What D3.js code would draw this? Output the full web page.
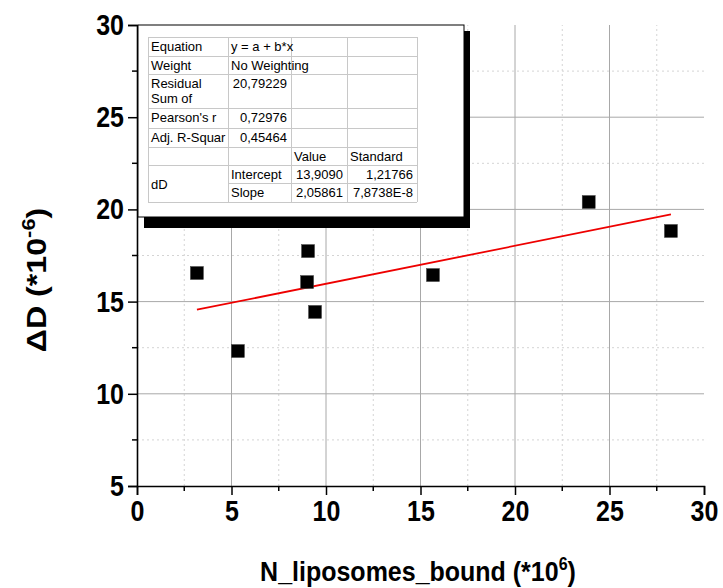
<!DOCTYPE html>
<html><head><meta charset="utf-8">
<script src="https://cdn.jsdelivr.net/npm/d3@7"></script>
<style>body{margin:0;background:#fff}svg{display:block}
.stretch{transform-box:fill-box;transform-origin:center;transform:scaleY(1.18)}</style>
</head><body>
<svg id="c" width="723" height="588"></svg>
<script>
const xValues = [3.17, 5.34, 9.05, 9.0, 9.42, 15.66, 23.9, 28.25];
const yValues = [16.55, 12.32, 17.74, 16.06, 14.44, 16.44, 20.4, 18.83];
const fitIntercept = 13.909;
const fitSlope = 0.205861;
const xTicks = [0, 5, 10, 15, 20, 25, 30];
const yTicks = [5, 10, 15, 20, 25, 30];
const tableRows = [
  ["Equation", "y = a + b*x", "", ""],
  ["Weight", "No Weighting", "", ""],
  ["Residual\nSum of", "20,79229", "", ""],
  ["Pearson's r", "0,72976", "", ""],
  ["Adj. R-Squar", "0,45464", "", ""],
  ["", "", "Value", "Standard"],
  ["dD", "Intercept", "13,9090", "1,21766"],
  ["", "Slope", "2,05861", "7,8738E-8"]
];

const svg = d3.select("#c");
const font = "'Liberation Sans', Arial, sans-serif";
const x = d3.scaleLinear().domain([0, 30]).range([137, 704]);
const y = d3.scaleLinear().domain([5, 30]).range([486, 25]);

// grid
const g = svg.append("g");
const minorX = d3.range(2.5, 30, 5), minorY = d3.range(7.5, 30, 5);
g.selectAll(".mx").data(minorX).join("line").attr("x1", d => x(d)).attr("x2", d => x(d))
  .attr("y1", y(5)).attr("y2", y(30)).attr("stroke", "#d4d4d4").attr("stroke-dasharray", "2,3");
g.selectAll(".my").data(minorY).join("line").attr("y1", d => y(d)).attr("y2", d => y(d))
  .attr("x1", x(0)).attr("x2", x(30)).attr("stroke", "#d4d4d4").attr("stroke-dasharray", "2,3");
g.selectAll(".Mx").data([5, 10, 15, 20, 25]).join("line").attr("x1", d => x(d)).attr("x2", d => x(d))
  .attr("y1", y(5)).attr("y2", y(30)).attr("stroke", "#a8a8a8");
g.selectAll(".My").data([10, 15, 20, 25]).join("line").attr("y1", d => y(d)).attr("y2", d => y(d))
  .attr("x1", x(0)).attr("x2", x(30)).attr("stroke", "#a8a8a8");

// axes
const xAxis = d3.axisBottom(x).tickValues(xTicks).tickSize(9).tickPadding(7).tickFormat(d3.format("d"));
const yAxis = d3.axisLeft(y).tickValues(yTicks).tickSize(9).tickPadding(4).tickFormat(d3.format("d"));
const xa = svg.append("g").attr("transform", `translate(0,${y(5)})`).call(xAxis);
const ya = svg.append("g").attr("transform", `translate(${x(0)},0)`).call(yAxis);
[xa, ya].forEach(a => {
  a.select(".domain").attr("stroke", "#000").attr("stroke-width", 1.6);
  a.selectAll(".tick line").attr("stroke", "#000").attr("stroke-width", 1.5);
  a.selectAll(".tick text").attr("font-family", font).attr("font-weight", "bold").attr("font-size", 25)
    .attr("fill", "#000").attr("class", "stretch");
});
// minor ticks
svg.append("g").selectAll("line").data(minorX).join("line")
  .attr("x1", d => x(d)).attr("x2", d => x(d)).attr("y1", y(5)).attr("y2", y(5) + 5)
  .attr("stroke", "#000").attr("stroke-width", 1.5);
svg.append("g").selectAll("line").data(minorY).join("line")
  .attr("y1", d => y(d)).attr("y2", d => y(d)).attr("x1", x(0)).attr("x2", x(0) - 5)
  .attr("stroke", "#000").attr("stroke-width", 1.5);

// fit line
const x0 = d3.min(xValues), x1 = d3.max(xValues);
svg.append("line").attr("x1", x(x0)).attr("y1", y(fitIntercept + fitSlope * x0))
  .attr("x2", x(x1)).attr("y2", y(fitIntercept + fitSlope * x1))
  .attr("stroke", "#ee0000").attr("stroke-width", 1.8);

// points
svg.append("g").selectAll("rect").data(xValues.map((v, i) => [v, yValues[i]])).join("rect")
  .attr("x", d => x(d[0]) - 6.5).attr("y", d => y(d[1]) - 6.5).attr("width", 13).attr("height", 13)
  .attr("fill", "#000").attr("stroke", "#444").attr("stroke-width", 0.5);

// table box with shadow
const bx = 138, by = 25, bw = 326, bh = 192;
svg.append("rect").attr("x", bx + 6).attr("y", by + 6).attr("width", bw).attr("height", bh + 5).attr("fill", "#000");
svg.append("rect").attr("x", bx).attr("y", by).attr("width", bw).attr("height", bh).attr("fill", "#fff").attr("stroke", "#000").attr("stroke-width", 1);

const colX = [148, 228, 291, 347, 417];
const rowY = [37, 56, 74, 108, 128, 147, 165, 183, 202];
const tg = svg.append("g").attr("font-family", font).attr("font-size", 13).attr("fill", "#000");
const gridC = "#c8c8c8";
rowY.forEach((ry, i) => {
  const sx = (i === 7) ? colX[1] : colX[0];
  tg.append("line").attr("x1", sx).attr("x2", colX[4]).attr("y1", ry + 0.5).attr("y2", ry + 0.5).attr("stroke", gridC);
});
colX.forEach(cx => tg.append("line").attr("x1", cx + 0.5).attr("x2", cx + 0.5).attr("y1", rowY[0]).attr("y2", rowY[8]).attr("stroke", gridC));

const rightAligned = (r, c) => (c === 1 && r >= 2 && r <= 4) || (c >= 2 && r >= 6);
tableRows.forEach((row, r) => {
  row.forEach((txt, c) => {
    if (!txt) return;
    const ra = rightAligned(r, c);
    const tx = ra ? colX[c + 1] - 4 : colX[c] + 3;
    let ty = rowY[r] + 14;
    if (r === 6 && c === 0) ty = (rowY[6] + rowY[8]) / 2 + 5;
    const lines = txt.split("\n");
    const t = tg.append("text").attr("x", tx).attr("y", ty).attr("text-anchor", ra ? "end" : "start");
    if (lines.length > 1) {
      lines.forEach((l, k) => t.append("tspan").attr("x", tx).attr("y", ty + k * 15).text(l));
    } else t.text(txt);
  });
});

// axis titles
const xt = svg.append("text").attr("x", 418).attr("y", 580).attr("text-anchor", "middle")
  .attr("font-family", font).attr("font-weight", "bold").attr("font-size", 25)
  .style("transform-box", "fill-box").style("transform-origin", "center").style("transform", "scaleY(1.1)");
xt.append("tspan").text("N_liposomes_bound (*10");
xt.append("tspan").attr("font-size", 16).attr("dy", -10).text("6");
xt.append("tspan").attr("dy", 10).text(")");

const yt = svg.append("text").attr("transform", "translate(46,280) rotate(-90) scale(1.15,1)").attr("text-anchor", "middle")
  .attr("font-family", font).attr("font-weight", "bold").attr("font-size", 28);
yt.append("tspan").text("ΔD (*10");
yt.append("tspan").attr("font-size", 19).attr("dy", -11).text("-6");
yt.append("tspan").attr("dy", 11).text(")");
</script>
</body></html>
